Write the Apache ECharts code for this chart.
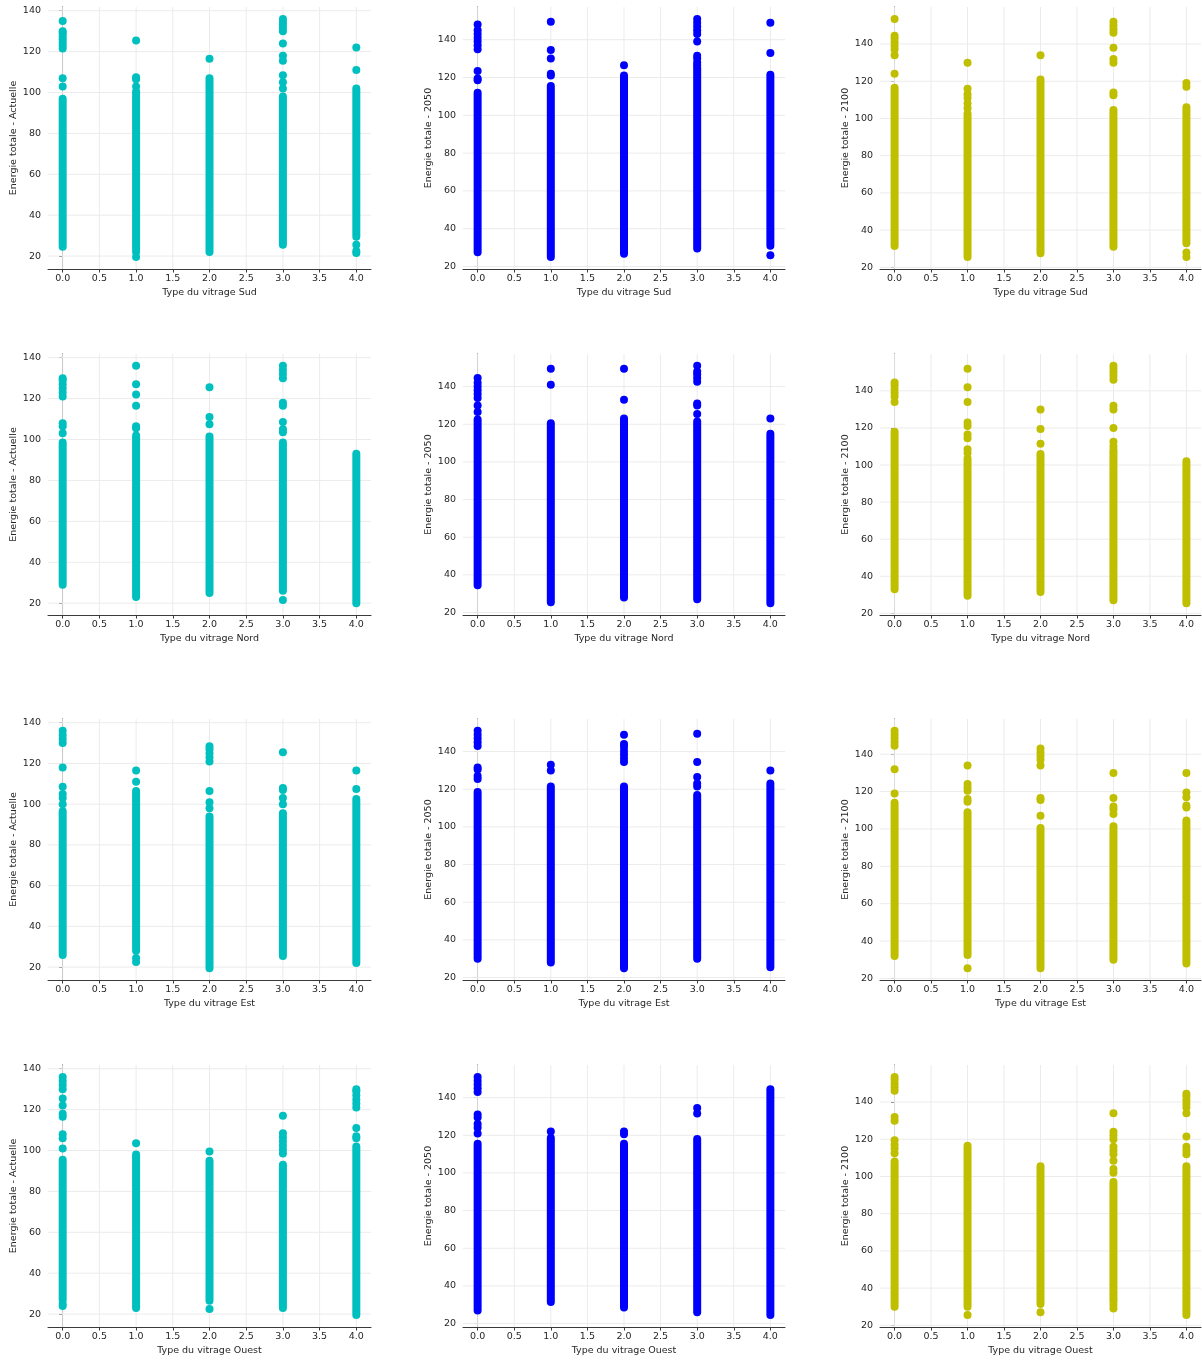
<!DOCTYPE html>
<html>
<head>
<meta charset="utf-8">
<script src="https://cdn.jsdelivr.net/npm/echarts@6/dist/echarts.min.js"></script>
<style>
  html, body { margin: 0; padding: 0; background: #ffffff; }
  #chart { width: 1202px; height: 1360px; }
</style>
</head>
<body>
<div id="chart"></div>
<script>
// Glazing type codes on the x axis
const glazingTypes = [0, 1, 2, 3, 4];
const xTicks = [0, 0.5, 1, 1.5, 2, 2.5, 3, 3.5, 4];
const yTicks = [20, 40, 60, 80, 100, 120, 140, 160];

const facades = ['Sud', 'Nord', 'Est', 'Ouest'];
const periods = ['Actuelle', '2050', '2100'];

// Each strip: dense run of points [low, high] per glazing type, plus isolated points
const sudActuelleCore = [[24.5, 97], [23.5, 100.5], [22, 107], [25.5, 98], [29.5, 102]];
const sudActuelleOut = [
  [103, 107, 121.5, 123, 124.5, 126, 127.5, 129, 130, 135],
  [19.5, 22, 103, 106.5, 107.5, 125.5],
  [116.5],
  [102, 105, 108.5, 115.5, 118, 124, 130, 131.5, 133, 134.5, 136],
  [21.5, 22.5, 25.5, 111, 122]
];
const sud2050Core = [[27.5, 112], [25, 115.5], [26.8, 121], [29.5, 125], [31, 121.5]];
const sud2050Out = [
  [118.5, 119.5, 123.5, 135, 137, 139, 141, 143, 145, 148],
  [121, 122, 130, 134.5, 149.5],
  [126.5],
  [126.5, 128, 130, 131.5, 139, 143, 145, 147, 149, 151],
  [26, 133, 149]
];
const sud2100Core = [[31.5, 115], [25.5, 102.5], [27.5, 121], [31, 104.5], [33, 106]];
const sud2100Out = [
  [116.5, 124, 134, 137, 139, 141, 143, 144.5, 153.5],
  [105.5, 108, 111, 113, 116, 130],
  [134],
  [112.5, 114, 130, 132, 138, 146, 148, 150, 152],
  [25.5, 28, 117, 119]
];

const nordActuelleCore = [[29, 98.5], [23, 102], [25, 101.5], [26, 98.5], [20, 93]];
const nordActuelleOut = [
  [103, 106.5, 108, 121, 123, 125, 127, 129, 130],
  [105.5, 106.5, 116.5, 122, 127, 136],
  [107.5, 111, 125.5],
  [21.5, 103.5, 105, 108.5, 116.5, 118, 130, 132, 134, 136],
  []
];
const nord2050Core = [[34.5, 122.5], [25.5, 120.5], [28, 123], [27, 121.5], [25, 115]];
const nord2050Out = [
  [126.5, 130, 134, 136, 138, 140, 142, 144.5],
  [141, 149.5],
  [133, 149.5],
  [125.5, 130, 131, 142.5, 144.5, 146.5, 148, 151],
  [123]
];
const nord2100Core = [[33, 118], [29.5, 103.5], [31.5, 106], [27, 108], [25.5, 102]];
const nord2100Out = [
  [134, 137, 139, 141, 143, 144.5],
  [106.5, 108.5, 114.5, 116.5, 121, 123, 134, 142, 152],
  [111.5, 119.5, 130],
  [110, 112.5, 120, 130, 132, 146, 148, 150, 152, 153.5],
  []
];

const estActuelleCore = [[26, 96.5], [28, 106.5], [19.5, 94], [25.5, 95.5], [22, 102.5]];
const estActuelleOut = [
  [100, 103, 105, 108.5, 118, 130, 132, 134, 136],
  [22.5, 24.5, 111, 116.5],
  [98, 101, 106.5, 121, 123, 125, 127, 128.5],
  [100, 103, 107, 108, 125.5],
  [107.5, 116.5]
];
const est2050Core = [[30, 118.5], [28, 121.5], [25, 121.5], [30, 117], [25.5, 123]];
const est2050Out = [
  [125.5, 127, 130.5, 131.5, 143, 145, 147, 149, 151],
  [130, 133],
  [134.5, 136.5, 138.5, 140.5, 142.5, 144, 149],
  [121.5, 123, 126.5, 134.5, 149.5],
  [130]
];
const est2100Core = [[32, 114], [32.5, 109], [25.5, 100.5], [30, 101.5], [28, 104.5]];
const est2100Out = [
  [119, 132, 144.5, 146.5, 148.5, 150.5, 152.5],
  [25.5, 114.5, 116, 120.5, 122, 124, 134],
  [107, 115.5, 116.5, 134, 137, 139, 141, 143],
  [108, 110.5, 112, 116.5, 130],
  [111.5, 112.5, 117, 119.5, 130]
];

const ouestActuelleCore = [[27, 95.5], [23, 98], [26.5, 95], [23, 93], [19.5, 102]];
const ouestActuelleOut = [
  [24, 25, 101, 106, 108, 116.5, 118, 122, 125.5, 130, 132, 134, 136],
  [103.5],
  [22.5, 99.5],
  [98.5, 100.5, 102.5, 104.5, 106.5, 108.5, 117],
  [106, 107, 111, 121, 123, 125, 127, 129, 130]
];
const ouest2050Core = [[27, 115.5], [31.5, 118.5], [28.5, 115.5], [26, 118], [24.5, 144.5]];
const ouest2050Out = [
  [121, 124, 126, 129.5, 131, 143, 145, 147, 149, 151],
  [122],
  [120.5, 122],
  [131.5, 134.5],
  []
];
const ouest2100Core = [[30, 108], [30, 116.5], [31.5, 105.5], [33, 97], [25.5, 105.5]];
const ouest2100Out = [
  [112.5, 115, 117, 119.5, 130, 132, 146, 148, 150, 152, 153.5],
  [25.5],
  [27],
  [29, 31, 102, 104, 108.5, 112, 114, 116, 120, 122, 124, 134],
  [112, 114, 116, 121.5, 134, 137, 139, 141, 143, 144.5]
];

const panelData = [
  [sudActuelleCore, sudActuelleOut], [sud2050Core, sud2050Out], [sud2100Core, sud2100Out],
  [nordActuelleCore, nordActuelleOut], [nord2050Core, nord2050Out], [nord2100Core, nord2100Out],
  [estActuelleCore, estActuelleOut], [est2050Core, est2050Out], [est2100Core, est2100Out],
  [ouestActuelleCore, ouestActuelleOut], [ouest2050Core, ouest2050Out], [ouest2100Core, ouest2100Out]
];

const periodColors = ['#00bfbf', '#0000ff', '#bfbf00'];

// Panel placement
const colLeft = [48, 463, 880];
const colWidth = [323, 322, 321];
const rowTop = [7, 354, 719, 1065];
const rowHeight = [262, 261, 261, 262];

const FONT = 'DejaVu Sans';
const TEXT = '#262626';
const SPINE = '#3a3a3a';
const GRIDLINE = '#ebebeb';
const MARK = 8;

function renderStrip(params, api) {
  const x = api.value(0);
  const top = api.coord([x, api.value(2)]);
  const bot = api.coord([x, api.value(1)]);
  const r = MARK / 2;
  return {
    type: 'rect',
    shape: { x: top[0] - r, y: top[1] - r, width: 2 * r, height: bot[1] - top[1] + 2 * r, r: r },
    style: { fill: api.visual('color') }
  };
}

function renderHLine(params, api) {
  const cs = params.coordSys;
  const y = api.coord([0, api.value(1)])[1];
  return {
    type: 'line',
    shape: { x1: cs.x, y1: y, x2: cs.x + cs.width, y2: y },
    style: { stroke: GRIDLINE, lineWidth: 1 }
  };
}

function renderVLine(params, api) {
  const cs = params.coordSys;
  const x = api.coord([api.value(0), 0])[0];
  return {
    type: 'line',
    shape: { x1: x, y1: cs.y, x2: x, y2: cs.y + cs.height },
    style: { stroke: GRIDLINE, lineWidth: 1 }
  };
}

const grids = [], xAxes = [], yAxes = [], series = [];

panelData.forEach(function (pd, i) {
  const row = Math.floor(i / 3), col = i % 3;
  const core = pd[0], out = pd[1];
  const color = periodColors[col];

  // y extent: data range with a 5% margin on each side
  let vals = [];
  core.forEach(function (c) { vals.push(c[0], c[1]); });
  out.forEach(function (o) { vals = vals.concat(o); });
  const lo = Math.min.apply(null, vals), hi = Math.max.apply(null, vals);
  const pad = 0.05 * (hi - lo);
  const yMin = lo - pad, yMax = hi + pad;
  const yShown = yTicks.filter(function (v) { return v >= yMin && v <= yMax; });

  grids.push({ left: colLeft[col], top: rowTop[row], width: colWidth[col], height: rowHeight[row] });

  xAxes.push({
    type: 'value', gridIndex: i, min: -0.2, max: 4.2,
    name: 'Type du vitrage ' + facades[row],
    nameLocation: 'middle', nameGap: 19,
    nameTextStyle: { fontFamily: FONT, fontSize: 9.5, color: TEXT },
    axisLine: { show: true, lineStyle: { color: SPINE, width: 1 } },
    axisTick: { show: true, length: 3.5, customValues: xTicks, lineStyle: { color: SPINE } },
    axisLabel: {
      customValues: xTicks, margin: 5, fontFamily: FONT, fontSize: 9.5, color: TEXT,
      formatter: function (v) { return Number(v).toFixed(1); }
    },
    splitLine: { show: false }
  });

  yAxes.push({
    type: 'value', gridIndex: i, min: yMin, max: yMax,
    name: 'Energie totale - ' + periods[col],
    nameLocation: 'middle', nameGap: 29, nameRotate: 90,
    nameTextStyle: { fontFamily: FONT, fontSize: 9.5, color: TEXT },
    axisLine: { show: true, lineStyle: { color: SPINE, width: 1 } },
    axisTick: { show: true, length: 3.5, customValues: yShown, lineStyle: { color: SPINE } },
    axisLabel: { customValues: yShown, margin: 7, fontFamily: FONT, fontSize: 9.5, color: TEXT },
    splitLine: { show: false }
  });

  series.push({
    type: 'custom', xAxisIndex: i, yAxisIndex: i, z: 1, silent: true,
    renderItem: renderHLine,
    data: yShown.map(function (v) { return [0, v]; })
  });
  series.push({
    type: 'custom', xAxisIndex: i, yAxisIndex: i, z: 1, silent: true,
    renderItem: renderVLine,
    data: xTicks.map(function (v) { return [v, yShown[0]]; })
  });
  series.push({
    type: 'custom', xAxisIndex: i, yAxisIndex: i, z: 3, silent: true,
    renderItem: renderStrip,
    itemStyle: { color: color },
    encode: { x: 0, y: [1, 2] },
    data: core.map(function (c, k) { return [glazingTypes[k], c[0], c[1]]; })
  });
  const pts = [];
  out.forEach(function (o, k) { o.forEach(function (v) { pts.push([glazingTypes[k], v]); }); });
  series.push({
    type: 'scatter', xAxisIndex: i, yAxisIndex: i, z: 3, silent: true,
    symbol: 'circle', symbolSize: MARK,
    itemStyle: { color: color, opacity: 1 },
    data: pts
  });
});

const chart = echarts.init(document.getElementById('chart'), null, { renderer: 'canvas' });
chart.setOption({
  animation: false,
  backgroundColor: '#ffffff',
  textStyle: { fontFamily: FONT },
  grid: grids,
  xAxis: xAxes,
  yAxis: yAxes,
  series: series
});
</script>
</body>
</html>
